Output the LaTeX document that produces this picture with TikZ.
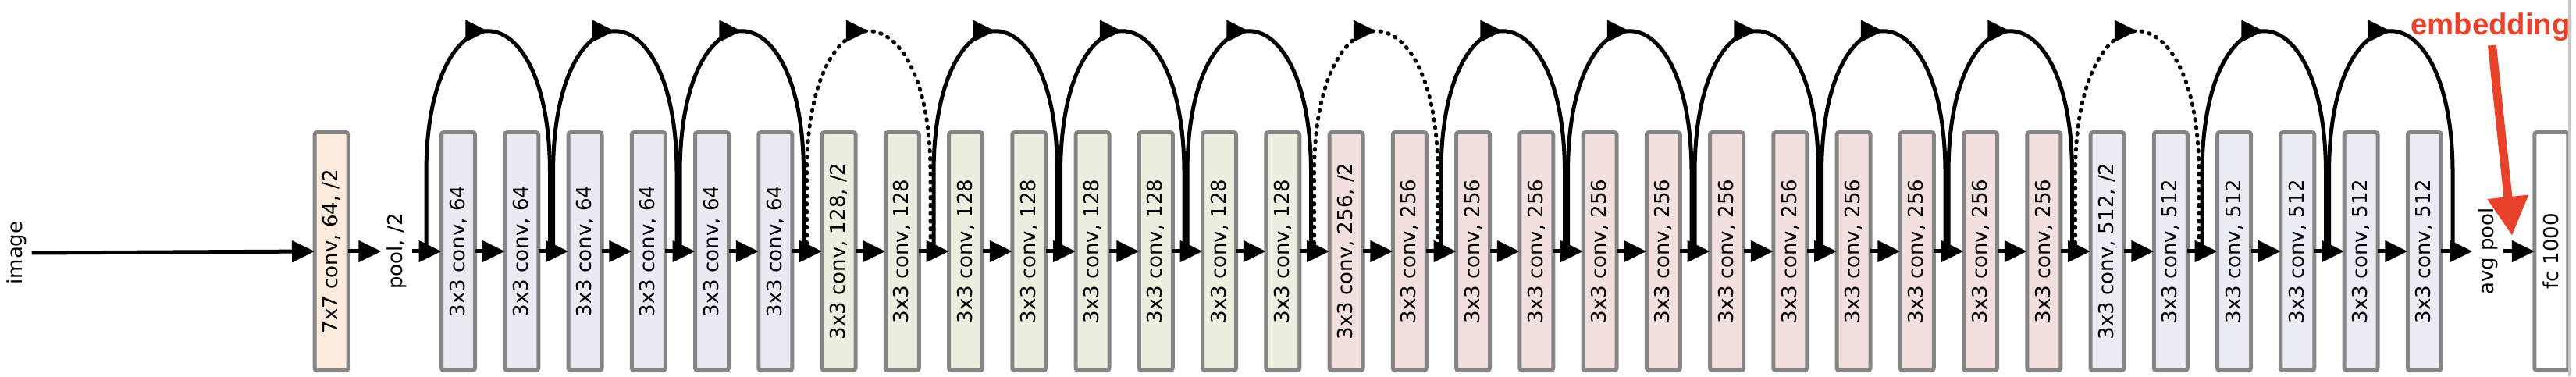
\documentclass[tikz,border=0pt]{standalone}
\usepackage{fontspec}
\setmainfont{DejaVu Sans}
\newfontfamily\embfont{Liberation Sans}
\usepackage{graphicx}
\usetikzlibrary{arrows.meta,calc,decorations.markings}

\definecolor{peach}{HTML}{FAEBDD}
\definecolor{lav}{HTML}{EBE9F1}
\definecolor{sage}{HTML}{EBEFE0}
\definecolor{rose}{HTML}{F2E0DF}
\definecolor{frost}{HTML}{EAEDF3}
\definecolor{boxgray}{HTML}{858585}
\definecolor{embred}{HTML}{E8432A}

\begin{document}
\begin{tikzpicture}[inner sep=0,outer sep=0,font=\fontsize{7.4}{9}\selectfont,
    convbox/.style={draw=boxgray,line width=0.05cm,rounded corners=0.3mm,minimum width=0.43cm,minimum height=3.05cm},
    lbl/.style={inner sep=0.07cm},
    fwd/.style={line width=0.05cm,-{Triangle[length=0.29cm,width=0.27cm]}},
    shortcut/.style={line width=0.05cm,postaction={decorate},
      decoration={markings,mark=at position 0.5 with {\arrow{Triangle[length=0.29cm,width=0.27cm]}}}},
    dotcut/.style={shortcut,line cap=round,dash pattern=on 0.015cm off 0.085cm}]

    \useasboundingbox (0,0) rectangle (33,4.82);

    % Input and stem
    \node[lbl] (img) at (0.21,1.58) {\rotatebox{90}{image}};
    \node[convbox,fill=peach] (conv1) at (4.245,1.6) {\rotatebox{90}{7x7 conv, 64, /2}};
    \node[lbl] (pool) at (5.08,1.6) {\rotatebox{90}{pool, /2}};
    \draw[fwd] (img.east) -- (conv1.west);
    \draw[fwd] (conv1.east) -- (pool.west);

    % The conv layers
    \foreach \first/\last/\ch/\col in {0/5/64/lav,6/13/128/sage,14/25/256/rose,26/31/512/frost}{
      \foreach \i in {\first,...,\last}{
        \node[convbox,fill=\col] (c\i) at (5.87+0.8125*\i,1.6)
          {\rotatebox{90}{3x3 conv, \ch\ifnum\i=\first\relax\ifnum\first>0\relax, /2\fi\fi}};
        \coordinate (up\i) at ($(c\i)+(-0.41,0)$);
        \coordinate (dn\i) at ($(c\i)+(-0.45,0)$);
      }
    }

    % Head
    \node[lbl] (avg) at (31.87,1.6) {\rotatebox{90}{avg pool}};
    \node[convbox,fill=white] (fc) at (32.6825,1.6) {\rotatebox{90}{fc 1000}};
    \coordinate (dn32) at ($(avg)+(-0.45,0)$);
    \draw[gray!45,line width=0.03cm] (32.91,0) -- (32.91,4.82);

    % Forward arrows
    \draw[fwd] (pool.east) -- (c0.west);
    \foreach \i [count=\j from 1] in {0,...,30}
      \draw[fwd] (c\i.east) -- (c\j.west);
    \draw[fwd] (c31.east) -- (avg.west);
    \draw[fwd] (avg.east) -- (fc.west);

    % Shortcuts
    \foreach \i/\kind in {0/shortcut,2/shortcut,4/shortcut,6/dotcut,8/shortcut,10/shortcut,
        12/shortcut,14/dotcut,16/shortcut,18/shortcut,20/shortcut,22/shortcut,24/shortcut,
        26/dotcut,28/shortcut,30/shortcut}{
      \pgfmathtruncatemacro\j{\i+2}
      \draw[\kind] (up\i) -- ++(0,1) .. controls +(0,2.43) and +(0,2.43) .. ($(dn\j)+(0,1)$) -- (dn\j);
    }

    % Embedding marker
    \node[anchor=base,text=embred,font=\embfont\bfseries\fontsize{10.9}{12}\selectfont] (emb) at (31.905,4.37) {embedding};
    \coordinate (embtip) at (32.18,1.80);
    \draw[embred,line width=0.11cm,-{Triangle[length=0.5cm,width=0.5cm]}] ([shift={(0.02,-0.05)}]emb.south) -- (embtip);

\end{tikzpicture}
\end{document}
